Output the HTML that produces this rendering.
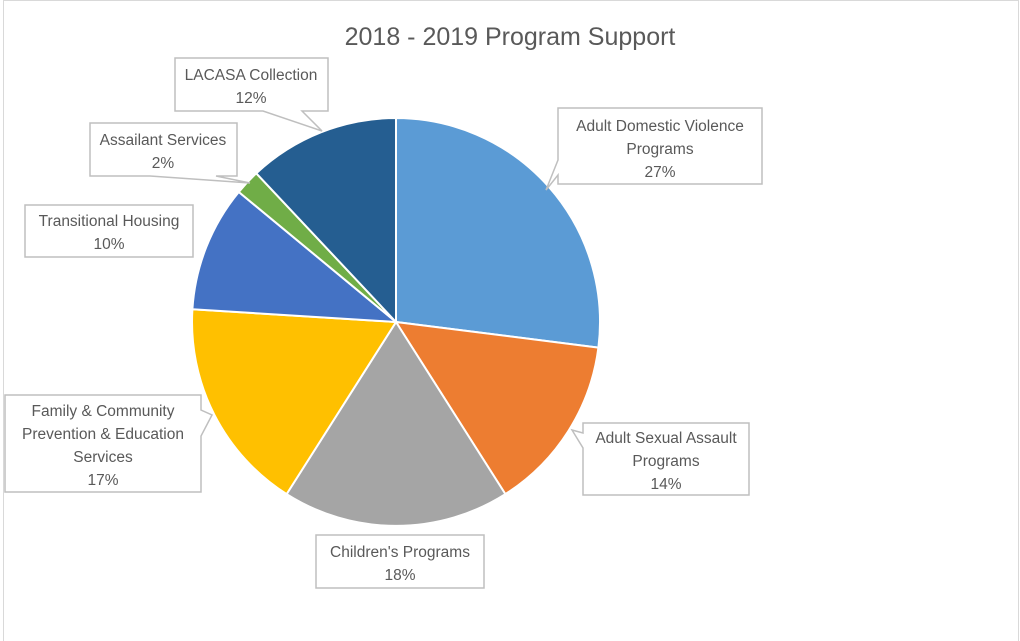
<!DOCTYPE html>
<html><head><meta charset="utf-8"><style>
html,body{margin:0;padding:0;background:#fff;}
svg{display:block;}
text{font-family:"Liberation Sans",sans-serif;fill:#595959;font-size:15.5px;}
</style></head><body>
<svg width="1020" height="641" viewBox="0 0 1020 641" xmlns="http://www.w3.org/2000/svg">
<line x1="3.5" y1="0" x2="3.5" y2="641" stroke="#d9d9d9" stroke-width="1"/>
<line x1="1018.5" y1="0" x2="1018.5" y2="641" stroke="#d9d9d9" stroke-width="1"/>
<line x1="3" y1="0.5" x2="1019" y2="0.5" stroke="#d9d9d9" stroke-width="1"/>
<text x="510" y="45" text-anchor="middle" style="font-size:25px">2018 - 2019 Program Support</text>
<g stroke="#fff" stroke-width="2" stroke-linejoin="round">
<path d="M396,322 L396,118 A204,204 0 0,1 598.4,347.6 Z" fill="#5B9BD5"/>
<path d="M396,322 L598.4,347.6 A204,204 0 0,1 505.4,494.1 Z" fill="#ED7D31"/>
<path d="M396,322 L505.4,494.1 A204,204 0 0,1 286.6,494.1 Z" fill="#A5A5A5"/>
<path d="M396,322 L286.6,494.1 A204,204 0 0,1 192.4,309.2 Z" fill="#FFC000"/>
<path d="M396,322 L192.4,309.2 A204,204 0 0,1 238.8,192.0 Z" fill="#4472C4"/>
<path d="M396,322 L238.8,192.0 A204,204 0 0,1 256.3,173.3 Z" fill="#70AD47"/>
<path d="M396,322 L256.3,173.3 A204,204 0 0,1 396,118 Z" fill="#255E91"/>
</g>
<g fill="#fff" stroke="#bfbfbf" stroke-width="1.5">
<path d="M175,58 H328 V111 H302 L322,131 L263,111 H175 Z"/>
<path d="M90,123 H237 V176 H216 L250,183 L150,176 H90 Z"/>
<path d="M25,205 H193 V257 H25 Z"/>
<path d="M5,395 H201 V410 L212,415 L201,436 V492 H5 Z"/>
<path d="M558,108 H762 V184 H558 V175 L546,190 L558,160 Z"/>
<path d="M583,423 H749 V495 H583 V448 L572,430 L583,433 Z"/>
<path d="M316,535 H484 V588 H316 Z"/>
</g>
<text x="251" y="80" text-anchor="middle">LACASA Collection</text>
<text x="251" y="103" text-anchor="middle">12%</text>
<text x="163" y="145" text-anchor="middle">Assailant Services</text>
<text x="163" y="168" text-anchor="middle">2%</text>
<text x="109" y="226" text-anchor="middle">Transitional Housing</text>
<text x="109" y="249" text-anchor="middle">10%</text>
<text x="103" y="416" text-anchor="middle">Family &amp; Community</text>
<text x="103" y="439" text-anchor="middle">Prevention &amp; Education</text>
<text x="103" y="462" text-anchor="middle">Services</text>
<text x="103" y="485" text-anchor="middle">17%</text>
<text x="660" y="131" text-anchor="middle">Adult Domestic Violence</text>
<text x="660" y="154" text-anchor="middle">Programs</text>
<text x="660" y="177" text-anchor="middle">27%</text>
<text x="666" y="443" text-anchor="middle">Adult Sexual Assault</text>
<text x="666" y="466" text-anchor="middle">Programs</text>
<text x="666" y="489" text-anchor="middle">14%</text>
<text x="400" y="557" text-anchor="middle">Children's Programs</text>
<text x="400" y="580" text-anchor="middle">18%</text>
</svg>
</body></html>
